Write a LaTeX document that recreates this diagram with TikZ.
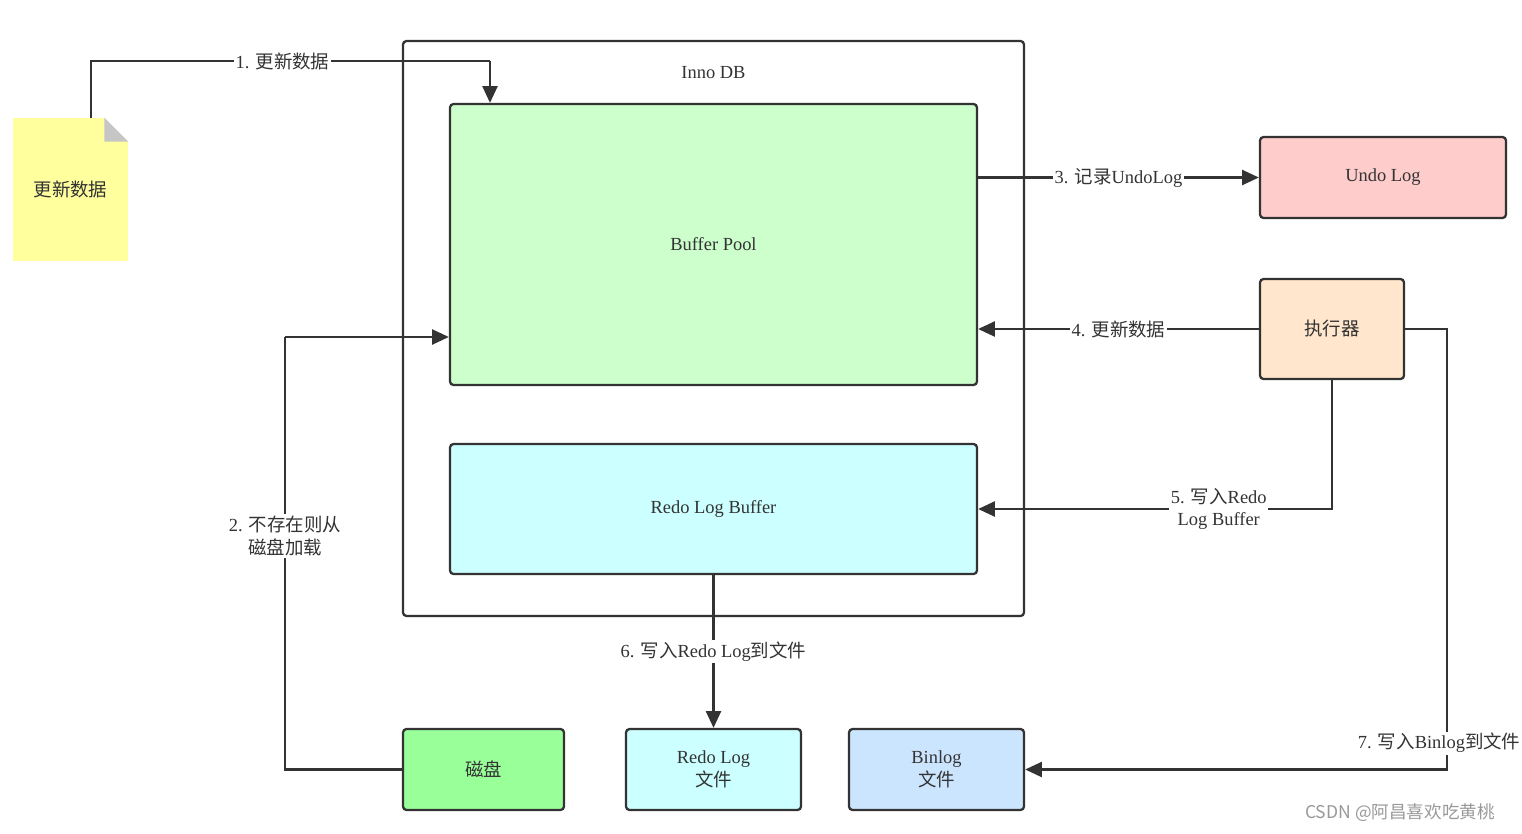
\documentclass[tikz,border=0pt]{standalone}
\usepackage{fontspec}
\setmainfont{Liberation Serif}
\newfontfamily\cjk{Noto Sans CJK SC}
\newcommand{\zh}[1]{{\cjk #1}}
\usetikzlibrary{positioning,calc,arrows.meta}

\definecolor{linegray}{HTML}{333333}
\definecolor{poolgreen}{HTML}{CCFFCC}
\definecolor{redocyan}{HTML}{CCFFFF}
\definecolor{undored}{HTML}{FFCCCC}
\definecolor{execorange}{HTML}{FFE6CC}
\definecolor{diskgreen}{HTML}{99FF99}
\definecolor{binblue}{HTML}{CCE5FF}
\definecolor{docyellow}{HTML}{FFFF9E}

\begin{document}
\begin{tikzpicture}[
    font=\fontsize{10.5}{13}\selectfont,
    box/.style={draw=linegray,line width=1.3pt,rounded corners=2pt,text=linegray,align=center,inner sep=0pt},
    flow/.style={draw=linegray,line width=1.3pt,-{Triangle[length=9.5pt,width=8.5pt]}},
    wire/.style={draw=linegray,line width=1.3pt},
    lbl/.style={fill=white,text=linegray,inner sep=1pt,align=center}
  ]
    \useasboundingbox (0,0) rectangle (30.44,-16.68);

    \node[box,minimum width=12.42cm,minimum height=11.5cm] (inno) at (14.27,-6.57) {};
    \node[text=linegray,below = 0.4cm of inno.north] (innolbl) {Inno DB};
    \node[box,fill=poolgreen,minimum width=10.54cm,minimum height=5.62cm] (bp) at (14.27,-4.89) {Buffer Pool};
    \node[box,fill=redocyan,minimum width=10.54cm,minimum height=2.6cm] (rlb) at (14.27,-10.18) {Redo Log Buffer};

    \node[fill=docyellow,text=linegray,minimum width=2.3cm,minimum height=2.86cm,inner sep=0pt] (doc) at (1.41,-3.79) {\zh{更新数据}};
    \fill[white] (doc.north east) -- ++(-0.48,0) -- ++(0.48,-0.48) -- cycle;
    \fill[gray!45] ([xshift=-0.48cm]doc.north east) -- ++(0,-0.48) -- ++(0.48,0) -- cycle;

    \node[box,fill=undored,minimum width=4.92cm,minimum height=1.62cm] (undo) at (27.66,-3.55) {Undo Log};
    \node[box,fill=execorange,minimum width=2.88cm,minimum height=2cm] (exec) at (26.64,-6.58) {\zh{执行器}};

    \node[box,fill=diskgreen,minimum width=3.22cm,minimum height=1.62cm] (disk) at (9.67,-15.39) {\zh{磁盘}};
    \node[box,fill=redocyan,minimum width=3.5cm,minimum height=1.62cm] (rfile) at (14.27,-15.39) {Redo Log\\\zh{文件}};
    \node[box,fill=binblue,minimum width=3.5cm,minimum height=1.62cm] (binlog) at (18.73,-15.39) {Binlog\\\zh{文件}};

    \coordinate (k1) at (9.8,-1.22);
    \coordinate (k2) at (5.7,-6.74);

    \draw[wire] ([xshift=0.41cm]doc.north) |- node[lbl,pos=0.74]{1. \zh{更新数据}} (k1);
    \draw[flow] (k1) -- (k1 |- bp.north);
    \draw[wire] (disk.west) -| node[lbl,pos=0.77]{2. \zh{不存在则从}\\\zh{磁盘加载}} (k2);
    \draw[flow] (k2) -- (k2 -| bp.west);
    \draw[flow] (bp.east |- undo.west) -- node[lbl]{3. \zh{记录}UndoLog} (undo.west);
    \draw[flow] (exec.west) -- node[lbl]{4. \zh{更新数据}} (bp.east |- exec.west);
    \draw[flow] (exec.south) |- node[lbl,pos=0.66]{5. \zh{写入}Redo\\Log Buffer} (rlb.east);
    \draw[flow] (rlb.south) -- node[lbl]{6. \zh{写入}Redo Log\zh{到文件}} (rfile.north);
    \draw[flow] (exec.east) -- ++(0.84,0) |- node[lbl,pos=0.47,xshift=-0.16cm]{7. \zh{写入}Binlog\zh{到文件}} (binlog.east);

    \node[text=gray!80,font=\cjk\fontsize{10}{12}\selectfont] (mark) at (28.0,-16.26) {CSDN @阿昌喜欢吃黄桃};
\end{tikzpicture}
\end{document}
